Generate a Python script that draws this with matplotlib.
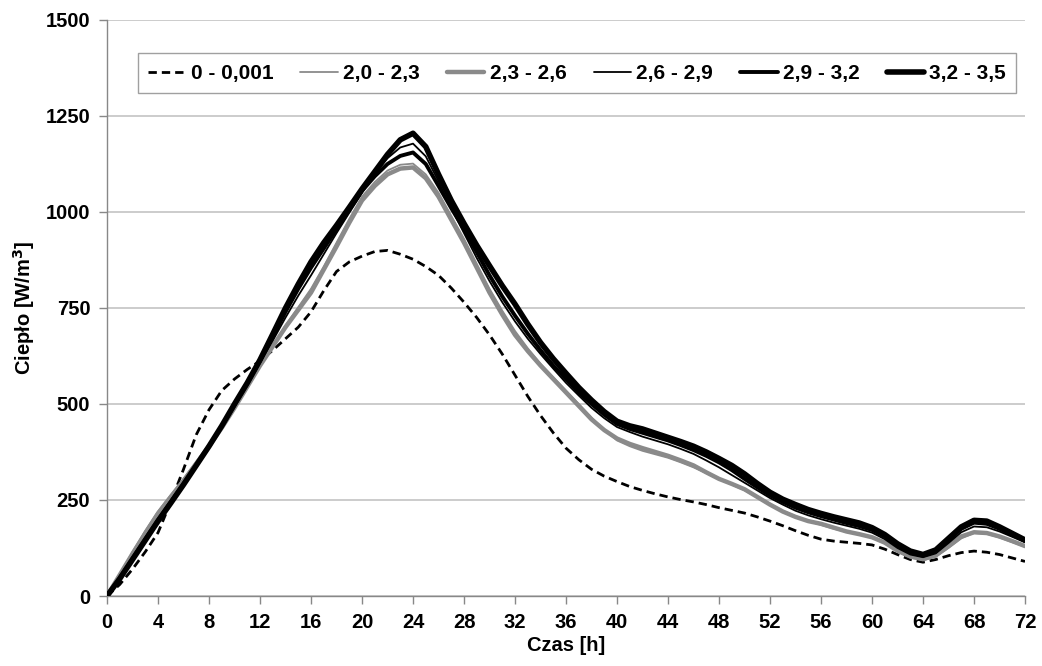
import matplotlib
matplotlib.use("Agg")
import matplotlib.pyplot as plt

hours = list(range(0, 73))

s_0_0001 = [0, 30, 70, 115, 165, 245, 330, 420, 485, 535, 565, 590, 612, 640, 670, 700, 740, 795, 845, 870,
            885, 897, 900, 890, 877, 858, 835, 802, 765, 725, 680, 630, 575, 520, 470, 425, 385, 355, 330, 312,
            298, 285, 275, 266, 258, 251, 245, 238, 230, 223, 216, 206, 195, 183, 170, 158, 148, 143, 140, 137,
            133, 122, 108, 95, 88, 95, 105, 113, 117, 114, 108, 99, 90]
s_20_23 = [0, 57, 115, 170, 220, 263, 305, 350, 395, 443, 495, 547, 600, 652, 705, 752, 800, 858, 920, 982,
           1040, 1078, 1108, 1123, 1126, 1098, 1050, 990, 930, 865, 800, 743, 690, 645, 605, 570, 535, 500, 465, 433,
           405, 390, 378, 369, 360, 348, 335, 320, 305, 290, 275, 257, 240, 222, 208, 195, 185, 175, 167, 160,
           152, 137, 116, 100, 93, 102, 125, 150, 164, 162, 152, 140, 128]
s_23_26 = [0, 55, 110, 163, 215, 258, 300, 345, 390, 438, 490, 545, 600, 650, 700, 745, 790, 850, 910, 972,
           1030, 1068, 1098, 1113, 1116, 1088, 1040, 980, 920, 855, 790, 733, 680, 638, 600, 565, 530, 495, 460, 432,
           410, 396, 385, 375, 365, 353, 340, 322, 305, 292, 278, 258, 238, 220, 206, 195, 188, 178, 168, 161,
           153, 139, 118, 103, 96, 106, 130, 155, 166, 164, 155, 143, 130]
s_26_29 = [0, 48, 100, 150, 200, 248, 295, 342, 390, 441, 495, 550, 608, 665, 725, 782, 835, 890, 945, 998,
           1050, 1098, 1140, 1168, 1178, 1145, 1080, 1010, 945, 880, 820, 765, 715, 670, 630, 592, 555, 522, 490, 463,
           440, 427, 415, 405, 395, 383, 370, 353, 335, 315, 295, 275, 255, 238, 222, 210, 200, 191, 183, 175,
           165, 148, 125, 108, 101, 111, 138, 166, 181, 179, 168, 154, 140]
s_29_32 = [0, 47, 98, 148, 198, 245, 292, 340, 390, 442, 497, 553, 612, 675, 740, 800, 855, 905, 955, 1005,
           1055, 1093, 1125, 1146, 1155, 1125, 1068, 1010, 955, 895, 835, 780, 730, 683, 640, 600, 565, 530, 500, 472,
           448, 435, 425, 415, 405, 393, 380, 365, 348, 328, 305, 283, 262, 245, 230, 218, 208, 199, 190, 182,
           172, 155, 131, 113, 105, 116, 145, 175, 191, 188, 175, 159, 143]
s_32_35 = [0, 45, 95, 145, 195, 242, 290, 340, 390, 443, 500, 555, 615, 682, 750, 812, 870, 920, 965, 1012,
           1060, 1105, 1150, 1188, 1205, 1170, 1098, 1030, 970, 913, 860, 808, 760, 708, 660, 618, 580, 543, 510, 480,
           455, 443, 435, 424, 413, 402, 390, 375, 358, 340, 318, 293, 270, 252, 238, 225, 215, 206, 198, 190,
           178, 160, 136, 117, 108, 120, 150, 180, 197, 195, 180, 163, 146]

labels = ["0 - 0,001", "2,0 - 2,3", "2,3 - 2,6", "2,6 - 2,9", "2,9 - 3,2", "3,2 - 3,5"]
x_ticks = list(range(0, 73, 4))
y_ticks = [0, 250, 500, 750, 1000, 1250, 1500]

plt.rcParams['font.family'] = ['Liberation Sans', 'DejaVu Sans']

fig = plt.figure(figsize=(10.42, 6.66), dpi=100)
ax = fig.add_axes([0.1027, 0.1051, 0.8810, 0.8649])

common = dict(solid_joinstyle='round', solid_capstyle='round')
ax.plot(hours, s_0_0001, color='black', lw=2.0, ls=(0, (3.0, 1.8)), label=labels[0], zorder=3)
ax.plot(hours, s_20_23, color='#8a8a8a', lw=1.3, label=labels[1], zorder=3, **common)
ax.plot(hours, s_23_26, color='#8a8a8a', lw=3.2, label=labels[2], zorder=3, **common)
ax.plot(hours, s_26_29, color='black', lw=1.3, label=labels[3], zorder=4, **common)
ax.plot(hours, s_29_32, color='black', lw=2.8, label=labels[4], zorder=4, **common)
ax.plot(hours, s_32_35, color='black', lw=4.0, label=labels[5], zorder=5, **common)

ax.set_xlim(0, 72)
ax.set_ylim(0, 1500)
ax.set_xticks(x_ticks)
ax.set_yticks(y_ticks)
ax.yaxis.grid(True, color='#c4c4c4', lw=1.2)
ax.set_axisbelow(True)
for side in ['top', 'right']:
    ax.spines[side].set_visible(False)
for side in ['left', 'bottom']:
    ax.spines[side].set_color('#888888')
    ax.spines[side].set_linewidth(1.0)
ax.tick_params(axis='both', direction='out', length=6, color='#888888', width=1.0,
               labelsize=14.5, pad=6)
for lab in ax.get_xticklabels() + ax.get_yticklabels():
    lab.set_fontweight('bold')

ax.set_xlabel('Czas [h]', fontsize=14.5, fontweight='bold', labelpad=3)
ax.set_ylabel('Ciepło [W/m$^\\mathbf{3}$]', fontsize=14.5, fontweight='bold', labelpad=6)

leg = ax.legend(loc='upper center', bbox_to_anchor=(0.512, 0.96), ncol=6, frameon=True, fancybox=False,
                edgecolor='#888888', prop={'weight': 'bold', 'size': 15},
                handlelength=1.8, handletextpad=0.25, columnspacing=1.3, borderpad=0.5)
leg.get_frame().set_linewidth(1.0)

fig.savefig('out.png', dpi=100, facecolor='white')
